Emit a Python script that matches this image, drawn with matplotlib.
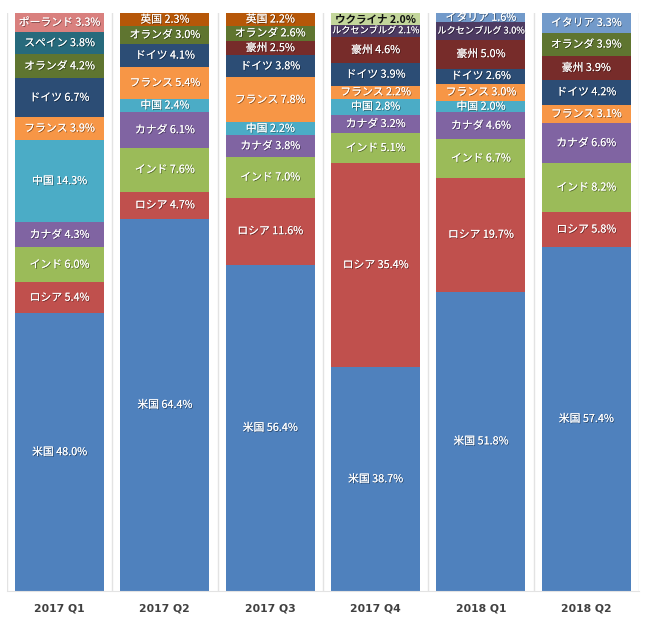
import matplotlib

matplotlib.use("Agg")
import matplotlib.pyplot as plt
import matplotlib.patheffects as pe

plt.rcParams["font.family"] = ["Noto Sans CJK JP", "DejaVu Sans"]

quarters = ["2017 Q1", "2017 Q2", "2017 Q3", "2017 Q4", "2018 Q1", "2018 Q2"]

# segments per quarter, bottom to top
q1_names = ["米国", "ロシア", "インド", "カナダ", "中国", "フランス", "ドイツ", "オランダ", "スペイン", "ポーランド"]
q1_values = [48.0, 5.4, 6.0, 4.3, 14.3, 3.9, 6.7, 4.2, 3.8, 3.3]

q2_names = ["米国", "ロシア", "インド", "カナダ", "中国", "フランス", "ドイツ", "オランダ", "英国"]
q2_values = [64.4, 4.7, 7.6, 6.1, 2.4, 5.4, 4.1, 3.0, 2.3]

q3_names = ["米国", "ロシア", "インド", "カナダ", "中国", "フランス", "ドイツ", "豪州", "オランダ", "英国"]
q3_values = [56.4, 11.6, 7.0, 3.8, 2.2, 7.8, 3.8, 2.5, 2.6, 2.2]

q4_names = ["米国", "ロシア", "インド", "カナダ", "中国", "フランス", "ドイツ", "豪州", "ルクセンブルグ", "ウクライナ"]
q4_values = [38.7, 35.4, 5.1, 3.2, 2.8, 2.2, 3.9, 4.6, 2.1, 2.0]

q5_names = ["米国", "ロシア", "インド", "カナダ", "中国", "フランス", "ドイツ", "豪州", "ルクセンブルグ", "イタリア"]
q5_values = [51.8, 19.7, 6.7, 4.6, 2.0, 3.0, 2.6, 5.0, 3.0, 1.6]

q6_names = ["米国", "ロシア", "インド", "カナダ", "フランス", "ドイツ", "豪州", "オランダ", "イタリア"]
q6_values = [57.4, 5.8, 8.2, 6.6, 3.1, 4.2, 3.9, 3.9, 3.3]

all_names = [q1_names, q2_names, q3_names, q4_names, q5_names, q6_names]
all_values = [q1_values, q2_values, q3_values, q4_values, q5_values, q6_values]

colors = {
    "米国": "#4f81bd",
    "ロシア": "#c0504d",
    "インド": "#9bbb59",
    "カナダ": "#8064a2",
    "中国": "#4bacc6",
    "フランス": "#f79646",
    "ドイツ": "#2c4d75",
    "オランダ": "#5f7530",
    "スペイン": "#276a7c",
    "ポーランド": "#d9807e",
    "英国": "#b65708",
    "豪州": "#772c2a",
    "ルクセンブルグ": "#4d3b62",
    "ウクライナ": "#c3d69b",
    "イタリア": "#729aca",
}

fig = plt.figure(figsize=(6.5, 6.22), dpi=100)
ax = fig.add_axes([0.0105, 0.0498, 0.9725, 0.9292])

shadow = [pe.withSimplePatchShadow(offset=(0.6, -0.6), shadow_rgbFace="black", alpha=0.45), pe.Normal()]

for i, (names, values) in enumerate(zip(all_names, all_values)):
    total = sum(values)
    bottom = 0.0
    for name, v in zip(names, values):
        h = v / total * 100
        ax.bar(i, h, bottom=bottom, width=0.845, color=colors[name], linewidth=0, zorder=2)
        label = f"{name} {v:.1f}%"
        if name == "ウクライナ":
            ax.text(i, bottom + h / 2, label, ha="center", va="center",
                    fontsize=7.6, fontweight="bold", color="#111111", zorder=3)
        else:
            fs = 6.6 if name == "ルクセンブルグ" else 7.8
            ax.text(i, bottom + h / 2, label, ha="center", va="center",
                    fontsize=fs, color="white", zorder=3, path_effects=shadow)
        bottom += h

ax.set_xlim(-0.5, len(quarters) - 0.5)
ax.set_ylim(0, 100)

# light separators between categories
for b in range(len(quarters) + 1):
    ax.axvline(b - 0.5, color="#e3e3e3", linewidth=1.0, zorder=1)

for s in ["top", "left", "right"]:
    ax.spines[s].set_visible(False)
ax.spines["bottom"].set_color("#e3e3e3")

ax.set_yticks([])
ax.set_xticks(range(len(quarters)))
ax.set_xticklabels(quarters, fontsize=7.8, fontweight="bold", color="#404040",
                   family=["DejaVu Sans"])
ax.tick_params(axis="x", length=0, pad=9)

fig.savefig("out.png", dpi=100, facecolor="white")
